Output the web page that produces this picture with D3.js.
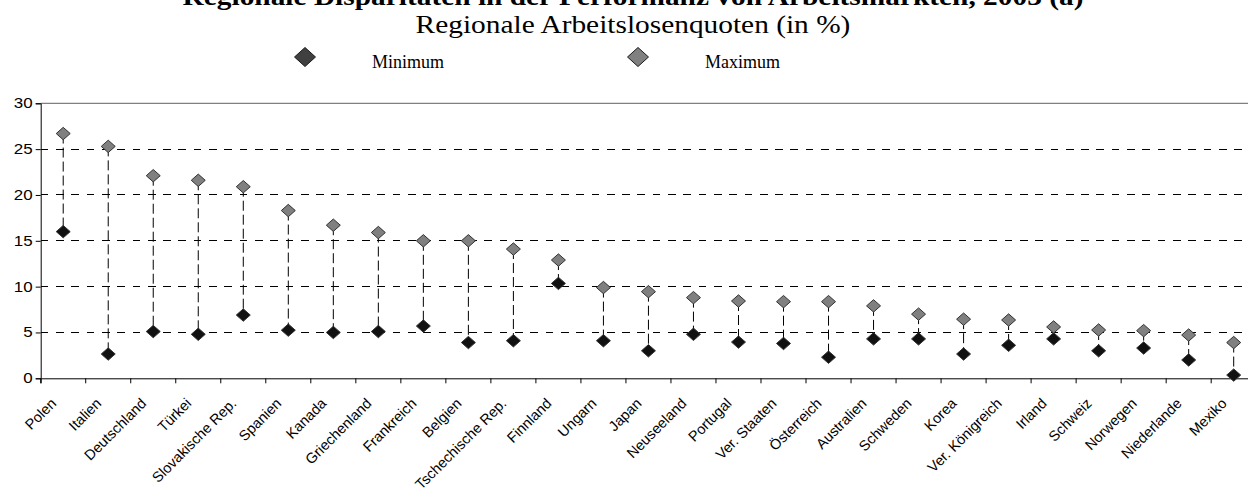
<!DOCTYPE html>
<html><head><meta charset="utf-8">
<script src="https://cdn.jsdelivr.net/npm/d3@7"></script>
<style>body{margin:0;background:#fff}svg{display:block}</style>
</head><body><svg id="c" width="1248" height="497"></svg>
<script>
const categories = ["Polen","Italien","Deutschland","Türkei","Slovakische Rep.","Spanien","Kanada","Griechenland","Frankreich","Belgien","Tschechische Rep.","Finnland","Ungarn","Japan","Neuseeland","Portugal","Ver. Staaten","Österreich","Australien","Schweden","Korea","Ver. Königreich","Irland","Schweiz","Norwegen","Niederlande","Mexiko"];
const minimum = [16.0,2.65,5.1,4.8,6.9,5.25,5.0,5.1,5.7,3.9,4.1,10.35,4.1,3.0,4.8,3.95,3.8,2.3,4.3,4.3,2.65,3.6,4.3,3.0,3.3,2.0,0.35];
const maximum = [26.7,25.3,22.1,21.6,20.9,18.3,16.7,15.9,15.0,15.0,14.1,12.9,9.9,9.45,8.8,8.43,8.36,8.36,7.9,7.0,6.45,6.36,5.6,5.27,5.2,4.72,3.9];
const yTicks = [0,5,10,15,20,25,30];
const title1 = "Regionale Disparitäten in der Performanz von Arbeitsmärkten, 2003 (a)";
const title2 = "Regionale Arbeitslosenquoten (in %)";
const seriesNames = ["Minimum","Maximum"];

const SX = 1.13; // horizontal stretch of the title / tick numbers
const serif = "'Liberation Serif', 'Times New Roman', serif";
const sans = "'Liberation Sans', Arial, sans-serif";
const svg = d3.select("#c");
const pLeft = 40.7, pRight = 1256.2, pTop = 103.3, pBottom = 378.3;
const x = d3.scaleBand().domain(categories).range([pLeft, pRight]);
const y = d3.scaleLinear().domain([0,30]).range([pBottom, pTop]);
const cx = d => x(d) + x.bandwidth()/2;

// titles
svg.append("text").attr("transform",`translate(633,5) scale(${SX},1)`).attr("text-anchor","middle")
  .style("font-family",serif).style("font-size","26px").style("font-weight","bold").text(title1);
svg.append("text").attr("transform",`translate(633,33.3) scale(${SX},1)`).attr("text-anchor","middle")
  .style("font-family",serif).style("font-size","26px").text(title2);

// legend
const diamond = (w,h) => `M0,${-h}L${w},0L0,${h}L${-w},0Z`;
const legendX = [305, 638], legendFill = ["#404040","#808080"];
seriesNames.forEach((n,i)=>{
  svg.append("path").attr("d",diamond(10.5,9.5)).attr("transform",`translate(${legendX[i]},57)`)
    .attr("fill",legendFill[i]).attr("stroke","#1a1a1a").attr("stroke-width",1);
  svg.append("text").attr("x",legendX[i]+67).attr("y",68)
    .style("font-family",serif).style("font-size","18px").text(n);
});

// gridlines
svg.append("g").selectAll("line").data(yTicks.filter(t=>t>0&&t<30)).join("line")
  .attr("x1",pLeft).attr("x2",pRight).attr("y1",d=>y(d)).attr("y2",d=>y(d))
  .attr("stroke","#000").attr("stroke-width",1).attr("stroke-dasharray","7.7,7.6").attr("shape-rendering","crispEdges");
// top border
svg.append("line").attr("x1",pLeft).attr("x2",pRight).attr("y1",y(30)).attr("y2",y(30))
  .attr("stroke","#808080").attr("stroke-width",1.2);

// y axis
const ya = svg.append("g").attr("transform",`translate(${pLeft},0)`)
  .call(d3.axisLeft(y).tickValues(yTicks).tickSize(5).tickFormat(""));
ya.select(".domain").attr("stroke","#000");
svg.append("g").selectAll("text").data(yTicks).join("text")
  .attr("transform", d => `translate(${pLeft-8},${y(d)+5}) scale(${SX},1)`)
  .attr("text-anchor","end")
  .style("font-family",sans).style("font-size","15px").text(d=>d);

// x axis
const xa = svg.append("g").attr("transform",`translate(0,${pBottom})`)
  .call(d3.axisBottom(x).tickSize(5).tickFormat(""));
xa.select(".domain").attr("stroke","#000");
xa.selectAll(".tick").attr("transform", d => `translate(${x(d)},0)`);
svg.append("g").selectAll("text").data(categories).join("text")
  .attr("transform", d => `translate(${cx(d)-6},${pBottom+26}) rotate(-45)`)
  .attr("text-anchor","end")
  .style("font-family",sans).style("font-size","14.5px").text(d=>d);

// connectors
svg.append("g").selectAll("line").data(categories).join("line")
  .attr("x1",cx).attr("x2",cx).attr("y1",(d,i)=>y(maximum[i])).attr("y2",(d,i)=>y(minimum[i]))
  .attr("stroke","#000").attr("stroke-width",1).attr("stroke-dasharray","10,4");

// markers
svg.append("g").selectAll("path").data(categories).join("path")
  .attr("d",diamond(7,6.2)).attr("transform",(d,i)=>`translate(${cx(d)},${y(minimum[i])})`)
  .attr("fill","#111").attr("stroke","#333").attr("stroke-width",1);
svg.append("g").selectAll("path").data(categories).join("path")
  .attr("d",diamond(7,6.2)).attr("transform",(d,i)=>`translate(${cx(d)},${y(maximum[i])})`)
  .attr("fill","#808080").attr("stroke","#333").attr("stroke-width",1);
</script></body></html>
